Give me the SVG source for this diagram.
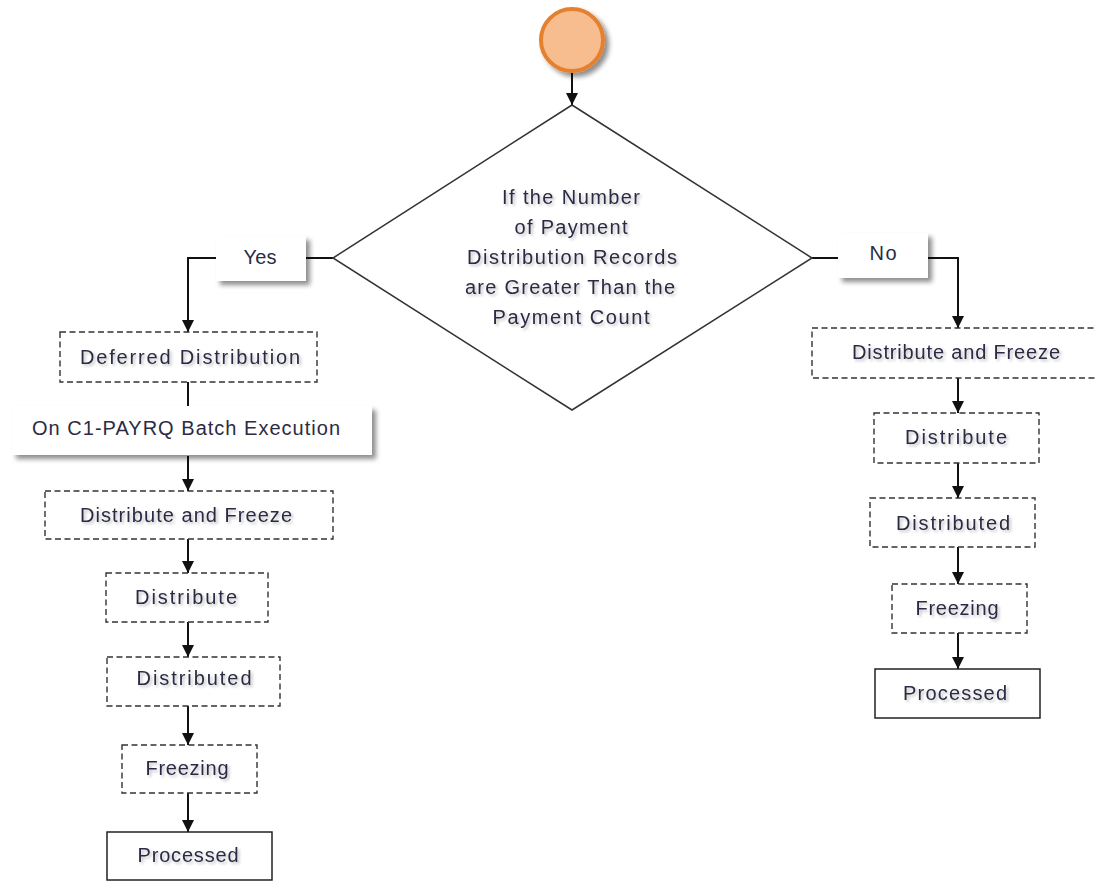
<svg xmlns="http://www.w3.org/2000/svg" width="1097" height="882" viewBox="0 0 1097 882">
<defs>
  <filter id="sh" x="-10%" y="-20%" width="130%" height="160%">
    <feGaussianBlur in="SourceAlpha" stdDeviation="2.5"/>
    <feOffset dx="4" dy="4" result="b"/>
    <feComponentTransfer><feFuncA type="linear" slope="0.45"/></feComponentTransfer>
    <feMerge><feMergeNode/><feMergeNode in="SourceGraphic"/></feMerge>
  </filter>
  <filter id="tsh" x="-10%" y="-30%" width="120%" height="160%">
    <feGaussianBlur in="SourceAlpha" stdDeviation="1.5"/>
    <feOffset dx="2" dy="2" result="b"/>
    <feComponentTransfer><feFuncA type="linear" slope="0.25"/></feComponentTransfer>
    <feMerge><feMergeNode/><feMergeNode in="SourceGraphic"/></feMerge>
  </filter>
  <marker id="ah" markerUnits="userSpaceOnUse" markerWidth="14" markerHeight="14" viewBox="0 0 14 14" refX="13" refY="7" orient="auto">
    <path d="M1,1 L13,7 L1,13 Z" fill="#111"/>
  </marker>
  <style>
    .lbl { font-family: "Liberation Sans", Arial, sans-serif; font-size: 20px; fill: #2b2b45; text-anchor: middle; }
    .dash { fill: #fff; stroke: #333; stroke-width: 1.4; stroke-dasharray: 6 3.5; }
    .solid { fill: #fff; stroke: #222; stroke-width: 1.5; }
    .plain { fill: #fff; stroke: none; }
    .ln { fill: none; stroke: #111; stroke-width: 2; }
    .arr { fill: none; stroke: #111; stroke-width: 2; marker-end: url(#ah); }
  </style>
</defs>
<rect x="0" y="0" width="1097" height="882" fill="#fff"/>

<g id="connectors">
  <line class="arr" x1="572" y1="73" x2="572" y2="105"/>
  <line class="ln" x1="333" y1="258" x2="306" y2="258"/>
  <polyline class="arr" points="216,258 188,258 188,332"/>
  <line class="ln" x1="188" y1="382" x2="188" y2="406"/>
  <line class="arr" x1="188" y1="456" x2="188" y2="491"/>
  <line class="arr" x1="188" y1="539" x2="188" y2="573"/>
  <line class="arr" x1="188" y1="622" x2="188" y2="657"/>
  <line class="arr" x1="188" y1="706" x2="188" y2="745"/>
  <line class="arr" x1="188" y1="793" x2="188" y2="832"/>
  <line class="ln" x1="812" y1="258" x2="838" y2="258"/>
  <polyline class="arr" points="928,258 958,258 958,328"/>
  <line class="arr" x1="958" y1="378" x2="958" y2="413"/>
  <line class="arr" x1="958" y1="463" x2="958" y2="498"/>
  <line class="arr" x1="958" y1="547" x2="958" y2="584"/>
  <line class="arr" x1="958" y1="633" x2="958" y2="669"/>
</g>

<g id="start">
  <circle cx="572" cy="40" r="31" fill="#F8BD8E" stroke="#E5802F" stroke-width="4" filter="url(#sh)"/>
</g>

<g id="decision">
  <polygon points="572,105 812,258 572,410 333,258" fill="#fff" stroke="#333" stroke-width="1.5"/>
  <g filter="url(#tsh)">
    <text class="lbl" x="571" y="204" textLength="138" lengthAdjust="spacing">If the Number</text>
    <text class="lbl" x="571" y="234" textLength="113" lengthAdjust="spacing">of Payment</text>
    <text class="lbl" x="572" y="264" textLength="210" lengthAdjust="spacing">Distribution Records</text>
    <text class="lbl" x="570" y="294" textLength="210" lengthAdjust="spacing">are Greater Than the</text>
    <text class="lbl" x="571" y="324" textLength="157" lengthAdjust="spacing">Payment Count</text>
  </g>
</g>

<g id="yes">
  <rect class="plain" x="216" y="236" width="90" height="45" filter="url(#sh)"/>
  <text class="lbl" x="260" y="264" textLength="33" lengthAdjust="spacing">Yes</text>
</g>

<g id="no">
  <rect class="plain" x="838" y="233" width="90" height="45" filter="url(#sh)"/>
  <text class="lbl" x="883" y="260" textLength="27" lengthAdjust="spacing">No</text>
</g>

<g id="deferred">
  <rect class="dash" x="60" y="332" width="257" height="50"/>
  <text class="lbl" x="190" y="364" textLength="220" lengthAdjust="spacing" filter="url(#tsh)">Deferred Distribution</text>
</g>

<g id="batch">
  <rect class="plain" x="12" y="406" width="360" height="49" filter="url(#sh)"/>
  <text class="lbl" x="186" y="435" textLength="308" lengthAdjust="spacing">On C1-PAYRQ Batch Execution</text>
</g>

<g id="l-freeze">
  <rect class="dash" x="45" y="491" width="288" height="48"/>
  <text class="lbl" x="186" y="522" textLength="212" lengthAdjust="spacing" filter="url(#tsh)">Distribute and Freeze</text>
</g>

<g id="l-distribute">
  <rect class="dash" x="106" y="573" width="162" height="49"/>
  <text class="lbl" x="186" y="604" textLength="102" lengthAdjust="spacing" filter="url(#tsh)">Distribute</text>
</g>

<g id="l-distributed">
  <rect class="dash" x="107" y="657" width="173" height="49"/>
  <text class="lbl" x="194" y="685" textLength="115" lengthAdjust="spacing" filter="url(#tsh)">Distributed</text>
</g>

<g id="l-freezing">
  <rect class="dash" x="122" y="745" width="135" height="48"/>
  <text class="lbl" x="187" y="775" textLength="83" lengthAdjust="spacing" filter="url(#tsh)">Freezing</text>
</g>

<g id="l-processed">
  <rect class="solid" x="107" y="832" width="165" height="48"/>
  <text class="lbl" x="188" y="862" textLength="101" lengthAdjust="spacing" filter="url(#tsh)">Processed</text>
</g>

<g id="r-freeze">
  <rect class="dash" x="812" y="328" width="292" height="50"/>
  <text class="lbl" x="956" y="359" textLength="208" lengthAdjust="spacing" filter="url(#tsh)">Distribute and Freeze</text>
</g>

<g id="r-distribute">
  <rect class="dash" x="874" y="413" width="165" height="50"/>
  <text class="lbl" x="956" y="444" textLength="102" lengthAdjust="spacing" filter="url(#tsh)">Distribute</text>
</g>

<g id="r-distributed">
  <rect class="dash" x="870" y="498" width="165" height="49"/>
  <text class="lbl" x="953" y="530" textLength="114" lengthAdjust="spacing" filter="url(#tsh)">Distributed</text>
</g>

<g id="r-freezing">
  <rect class="dash" x="892" y="584" width="135" height="49"/>
  <text class="lbl" x="957" y="615" textLength="83" lengthAdjust="spacing" filter="url(#tsh)">Freezing</text>
</g>

<g id="r-processed">
  <rect class="solid" x="875" y="669" width="165" height="49"/>
  <text class="lbl" x="955" y="700" textLength="104" lengthAdjust="spacing" filter="url(#tsh)">Processed</text>
</g>
</svg>
